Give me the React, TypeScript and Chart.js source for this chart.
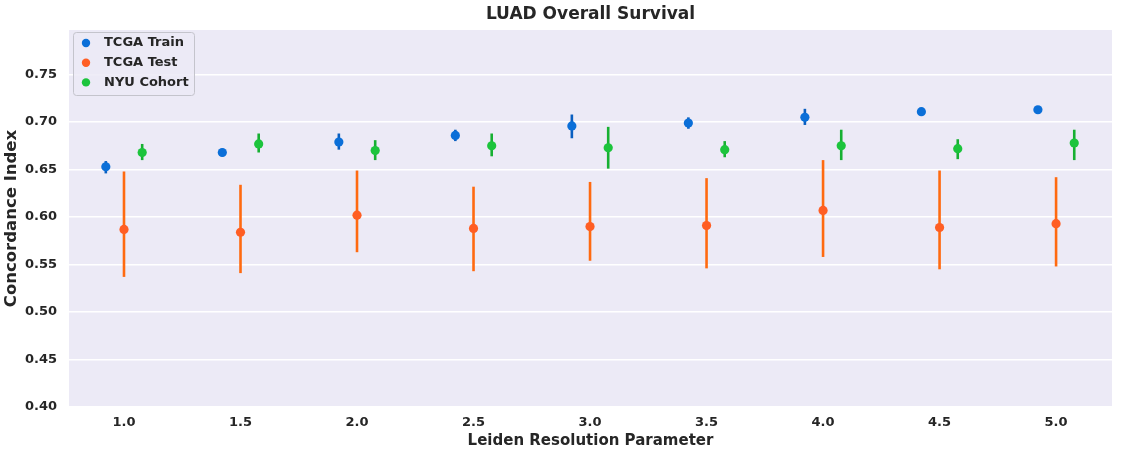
import React, { useEffect, useRef } from "react";
import { Chart, registerables } from "chart.js";

Chart.register(...registerables);

// ---- data ----
const resolutions = [1.0, 1.5, 2.0, 2.5, 3.0, 3.5, 4.0, 4.5, 5.0];
const yTicks = [0.4, 0.45, 0.5, 0.55, 0.6, 0.65, 0.7, 0.75];

const trainMean = [0.653, 0.668, 0.679, 0.686, 0.696, 0.699, 0.705, 0.711, 0.713];
const trainLow = [0.646, 0.664, 0.671, 0.680, 0.683, 0.693, 0.697, 0.708, 0.711];
const trainHigh = [0.659, 0.672, 0.688, 0.692, 0.708, 0.705, 0.714, 0.714, 0.716];

const testMean = [0.587, 0.584, 0.602, 0.588, 0.590, 0.591, 0.607, 0.589, 0.593];
const testLow = [0.537, 0.541, 0.563, 0.543, 0.554, 0.546, 0.558, 0.545, 0.548];
const testHigh = [0.648, 0.634, 0.649, 0.632, 0.637, 0.641, 0.660, 0.649, 0.642];

const nyuMean = [0.668, 0.677, 0.670, 0.675, 0.673, 0.671, 0.675, 0.672, 0.678];
const nyuLow = [0.660, 0.668, 0.660, 0.664, 0.651, 0.663, 0.660, 0.661, 0.660];
const nyuHigh = [0.677, 0.688, 0.681, 0.688, 0.695, 0.680, 0.692, 0.682, 0.692];

const seriesLabels = ["TCGA Train", "TCGA Test", "NYU Cohort"];
const chartTitle = "LUAD Overall Survival";

// ---- styles ----
const FONT = "'DejaVu Sans', sans-serif";
const TEXT = "#262626";
const PLOT_BG = "#eceaf6";
const DODGE = 0.078;
const colors = ["#0b6fd8", "#ff5e24", "#1cc43c"];
const errColors = ["#0a5fc0", "#ff6a10", "#17b032"];

export default function App() {
  const ref = useRef<HTMLCanvasElement>(null);

  useEffect(() => {
    document.body.style.margin = "0";
    const canvas = ref.current!;
    const series = [
      { mean: trainMean, low: trainLow, high: trainHigh, off: -DODGE },
      { mean: testMean, low: testLow, high: testHigh, off: 0 },
      { mean: nyuMean, low: nyuLow, high: nyuHigh, off: DODGE },
    ];

    const plotBg = {
      id: "plotBg",
      beforeDraw(chart: any) {
        const { ctx, chartArea: a } = chart;
        ctx.save();
        ctx.fillStyle = PLOT_BG;
        ctx.fillRect(a.left, a.top, a.right - a.left, a.bottom - a.top);
        ctx.fillStyle = TEXT;
        ctx.font = `bold 17px ${FONT}`;
        ctx.textAlign = "center";
        ctx.textBaseline = "middle";
        ctx.fillText(chartTitle, (a.left + a.right) / 2, 15);
        ctx.restore();
      },
    };

    const errorBars = {
      id: "errorBars",
      beforeDatasetsDraw(chart: any) {
        const { ctx, scales } = chart;
        const x = scales.x, y = scales.y;
        ctx.save();
        ctx.lineWidth = 2.6;
        series.forEach((s, k) => {
          ctx.strokeStyle = errColors[k];
          resolutions.forEach((r, i) => {
            const px = x.getPixelForValue(r + s.off);
            ctx.beginPath();
            ctx.moveTo(px, y.getPixelForValue(s.low[i]));
            ctx.lineTo(px, y.getPixelForValue(s.high[i]));
            ctx.stroke();
          });
        });
        ctx.restore();
      },
    };

    const legendBox = {
      id: "legendBox",
      afterDatasetsDraw(chart: any) {
        const { ctx, chartArea: a } = chart;
        const x0 = a.left + 4, y0 = a.top + 2, w = 121, h = 63;
        ctx.save();
        ctx.beginPath();
        (ctx as any).roundRect(x0 + 0.5, y0 + 0.5, w, h, 3);
        ctx.fillStyle = "rgba(236,234,246,0.85)";
        ctx.fill();
        ctx.strokeStyle = "#c4c4cc";
        ctx.lineWidth = 1;
        ctx.stroke();
        ctx.font = `bold 13px ${FONT}`;
        ctx.textBaseline = "middle";
        ctx.textAlign = "left";
        seriesLabels.forEach((lab, i) => {
          const cy = y0 + 11 + i * 19.7;
          ctx.beginPath();
          ctx.arc(x0 + 13, cy, 4.2, 0, Math.PI * 2);
          ctx.fillStyle = colors[i];
          ctx.fill();
          ctx.fillStyle = TEXT;
          ctx.fillText(lab, x0 + 31, cy);
        });
        ctx.restore();
      },
    };

    const chart = new Chart(canvas, {
      type: "scatter",
      data: {
        datasets: series.map((s, k) => ({
          label: seriesLabels[k],
          data: resolutions.map((r, i) => ({ x: r + s.off, y: s.mean[i] })),
          backgroundColor: colors[k],
          borderColor: colors[k],
          pointRadius: 4.6,
          pointBorderWidth: 0,
          showLine: false,
        })),
      },
      options: {
        responsive: false,
        animation: false,
        events: [],
        layout: { padding: { left: 0, right: 10, top: 30, bottom: 0 } },
        plugins: {
          legend: { display: false },
          tooltip: { enabled: false },
          title: { display: false },
        },
        scales: {
          x: {
            type: "linear",
            min: 0.764,
            max: 5.24,
            afterBuildTicks: (s: any) => {
              s.ticks = resolutions.map((v) => ({ value: v }));
            },
            afterFit: (s: any) => {
              s.height = 50;
            },
            grid: { display: false, drawTicks: false },
            border: { display: false },
            ticks: {
              color: TEXT,
              font: { family: FONT, size: 13, weight: "bold" },
              padding: 8,
              maxRotation: 0,
              callback: (v: any) => Number(v).toFixed(1),
            },
            title: {
              display: true,
              text: "Leiden Resolution Parameter",
              color: TEXT,
              font: { family: FONT, size: 15, weight: "bold" },
              padding: { top: 0, bottom: 7 },
            },
          },
          y: {
            min: 0.4,
            max: 0.797,
            afterBuildTicks: (s: any) => {
              s.ticks = yTicks.map((v) => ({ value: v }));
            },
            afterFit: (s: any) => {
              s.width = 69;
            },
            grid: { color: "#ffffff", lineWidth: 1.5, drawTicks: false },
            border: { display: false },
            ticks: {
              color: TEXT,
              font: { family: FONT, size: 13, weight: "bold" },
              padding: 12,
              callback: (v: any) => Number(v).toFixed(2),
            },
            title: {
              display: true,
              text: "Concordance Index",
              color: TEXT,
              font: { family: FONT, size: 16.5, weight: "bold" },
              padding: { top: 2, bottom: 0 },
            },
          },
        },
      },
      plugins: [plotBg, errorBars, legendBox],
    } as any);

    return () => chart.destroy();
  }, []);

  return (
    <div style={{ width: 1122, height: 457 }}>
      <canvas ref={ref} width={1122} height={457} style={{ width: 1122, height: 457, display: "block" }} />
    </div>
  );
}
